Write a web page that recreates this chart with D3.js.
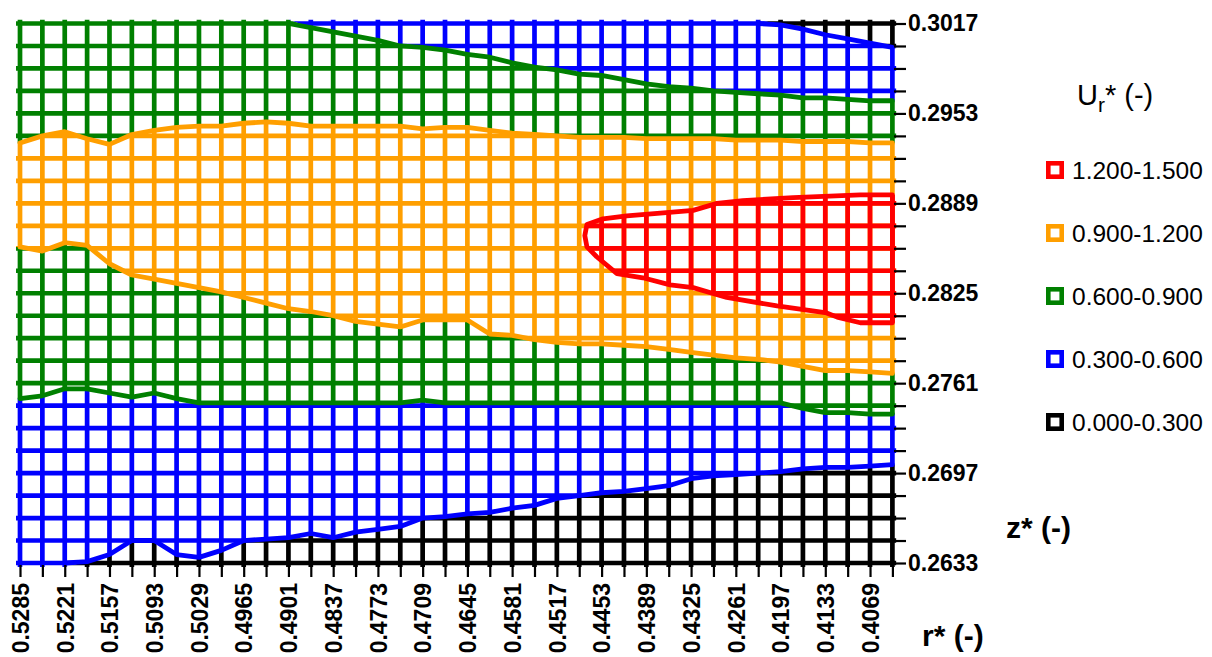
<!DOCTYPE html>
<html>
<head>
<meta charset="utf-8">
<script src="https://cdn.jsdelivr.net/npm/d3@7"></script>
<style>
  body { margin: 0; background: #fff; }
  svg { display: block; }
  text { font-family: "Liberation Sans", Arial, sans-serif; }
</style>
</head>
<body>
<svg id="chart" width="1212" height="657"></svg>
<script>
// Radial positions r* (categories, left to right)
const rCategories = [
  0.5285, 0.5253, 0.5221, 0.5189, 0.5157, 0.5125, 0.5093, 0.5061, 0.5029, 0.4997,
  0.4965, 0.4933, 0.4901, 0.4869, 0.4837, 0.4805, 0.4773, 0.4741, 0.4709, 0.4677,
  0.4645, 0.4613, 0.4581, 0.4549, 0.4517, 0.4485, 0.4453, 0.4421, 0.4389, 0.4357,
  0.4325, 0.4293, 0.4261, 0.4229, 0.4197, 0.4165, 0.4133, 0.4101, 0.4069, 0.4037
];
// Axial positions z* (series rows, bottom to top)
const zLevels = [
  0.2633, 0.2649, 0.2665, 0.2681, 0.2697, 0.2713, 0.2729, 0.2745, 0.2761, 0.2777,
  0.2793, 0.2809, 0.2825, 0.2841, 0.2857, 0.2873, 0.2889, 0.2905, 0.2921, 0.2937,
  0.2953, 0.2969, 0.2985, 0.3001, 0.3017
];
const zTickLabels = [0.2633, 0.2697, 0.2761, 0.2825, 0.2889, 0.2953, 0.3017];

// Velocity bands U_r*
const bandLabels = ["1.200-1.500", "0.900-1.200", "0.600-0.900", "0.300-0.600", "0.000-0.300"];
const bandColors = ["#ff0000", "#ff9f00", "#008000", "#0000ff", "#000000"];

// Contour boundaries: z* of each band edge at every r* category
// lower half of the field
const edgeBlackBlueLow = [
  0.2633, 0.2633, 0.2633, 0.2634, 0.2639, 0.2649, 0.2649, 0.2639, 0.2637, 0.2642,
  0.2649, 0.2650, 0.2651, 0.2654, 0.2651, 0.2655, 0.2657, 0.2659, 0.2665, 0.2666,
  0.2668, 0.2669, 0.2672, 0.2674, 0.2679, 0.2681, 0.2683, 0.2684, 0.2686, 0.2688,
  0.2693, 0.2695, 0.2696, 0.2697, 0.2698, 0.2700, 0.2701, 0.2701, 0.2702, 0.2703
];
const edgeBlueGreenLow = [
  0.2750, 0.2752, 0.2757, 0.2757, 0.2754, 0.2751, 0.2754, 0.2750, 0.2747, 0.2747,
  0.2747, 0.2747, 0.2747, 0.2747, 0.2747, 0.2747, 0.2747, 0.2747, 0.2749, 0.2747,
  0.2747, 0.2747, 0.2747, 0.2747, 0.2747, 0.2747, 0.2747, 0.2747, 0.2747, 0.2747,
  0.2747, 0.2747, 0.2747, 0.2747, 0.2747, 0.2743, 0.2740, 0.2740, 0.2739, 0.2739
];
const edgeGreenOrangeLow = [
  0.2858, 0.2855, 0.2861, 0.2859, 0.2846, 0.2838, 0.2835, 0.2832, 0.2829, 0.2826,
  0.2822, 0.2818, 0.2814, 0.2812, 0.2809, 0.2805, 0.2803, 0.2801, 0.2806, 0.2806,
  0.2806, 0.2796, 0.2795, 0.2792, 0.2790, 0.2789, 0.2789, 0.2788, 0.2787, 0.2785,
  0.2783, 0.2781, 0.2779, 0.2778, 0.2776, 0.2773, 0.2770, 0.2770, 0.2769, 0.2768
];
// upper half of the field
const edgeOrangeGreenHigh = [
  0.2932, 0.2937, 0.2940, 0.2935, 0.2931, 0.2938, 0.2941, 0.2943, 0.2944, 0.2944,
  0.2946, 0.2947, 0.2946, 0.2944, 0.2944, 0.2944, 0.2944, 0.2944, 0.2942, 0.2943,
  0.2943, 0.2941, 0.2939, 0.2938, 0.2937, 0.2936, 0.2936, 0.2936, 0.2935, 0.2935,
  0.2935, 0.2935, 0.2934, 0.2934, 0.2934, 0.2933, 0.2933, 0.2933, 0.2932, 0.2932
];
const edgeGreenBlueHigh = [
  0.3017, 0.3017, 0.3017, 0.3017, 0.3017, 0.3017, 0.3017, 0.3017, 0.3017, 0.3017,
  0.3017, 0.3017, 0.3017, 0.3014, 0.3011, 0.3008, 0.3005, 0.3001, 0.3000, 0.2998,
  0.2995, 0.2993, 0.2989, 0.2986, 0.2984, 0.2981, 0.2980, 0.2977, 0.2974, 0.2972,
  0.2971, 0.2969, 0.2968, 0.2967, 0.2966, 0.2964, 0.2964, 0.2963, 0.2962, 0.2962
];
const edgeBlueBlackHigh = [
  0.3017, 0.3017, 0.3017, 0.3017, 0.3017, 0.3017, 0.3017, 0.3017, 0.3017, 0.3017,
  0.3017, 0.3017, 0.3017, 0.3017, 0.3017, 0.3017, 0.3017, 0.3017, 0.3017, 0.3017,
  0.3017, 0.3017, 0.3017, 0.3017, 0.3017, 0.3017, 0.3017, 0.3017, 0.3017, 0.3017,
  0.3017, 0.3017, 0.3017, 0.3017, 0.3016, 0.3013, 0.3009, 0.3006, 0.3003, 0.3000
];
// closed outline [r*, z*] of the 1.200-1.500 core
const coreOutline = [
  [0.4477, 0.2866], [0.4474, 0.2874], [0.4451, 0.2878], [0.4417, 0.2880], [0.4369, 0.2882],
  [0.4322, 0.2884], [0.4288, 0.2889], [0.4251, 0.2891], [0.4179, 0.2893], [0.4083, 0.2895],
  [0.4037, 0.2895], [0.4037, 0.2804], [0.4083, 0.2804], [0.4116, 0.2808], [0.4131, 0.2811],
  [0.4202, 0.2816], [0.4274, 0.2822], [0.4322, 0.2829], [0.4355, 0.2831], [0.4394, 0.2836],
  [0.4431, 0.2839], [0.4460, 0.2851], [0.4474, 0.2858]
];

const svg = d3.select("#chart");
const rFirst = rCategories[0], rLast = rCategories[rCategories.length - 1];
const zMin = zLevels[0], zMax = zLevels[zLevels.length - 1];

const x = d3.scaleLinear().domain([rFirst, rLast]).range([20, 892.4]);
const y = d3.scaleLinear().domain([zMin, zMax]).range([563, 23.5]);

const GRID_W = 4.7;   // wireframe stroke
const EDGE_W = 4.8;   // contour edge stroke
const PAD = 4;        // clip overhang at the plot border

const eps = 1e-7;
const yc = z => z >= zMax - eps ? y(zMax) - PAD : (z <= zMin + eps ? y(zMin) + PAD : y(z));
const xc = r => r >= rFirst - eps ? x(rFirst) - PAD : (r <= rLast + eps ? x(rLast) + PAD : x(r));
const pick = (b, i) => (typeof b === "number" ? b : b[i]);

function bandPath(lower, upper) {
  const topPts = rCategories.map((r, i) => [x(r), yc(pick(upper, i))]);
  const botPts = rCategories.map((r, i) => [x(r), yc(pick(lower, i))]);
  topPts.unshift([x(rFirst) - PAD, topPts[0][1]]);
  topPts.push([x(rLast) + PAD, topPts[topPts.length - 1][1]]);
  botPts.unshift([x(rFirst) - PAD, botPts[0][1]]);
  botPts.push([x(rLast) + PAD, botPts[botPts.length - 1][1]]);
  return "M" + topPts.concat(botPts.reverse()).map(p => p.join(",")).join("L") + "Z";
}

const defs = svg.append("defs");
const plot = svg.append("g");

function drawGrid(color, clipId, pathD) {
  defs.append("clipPath").attr("id", clipId).append("path").attr("d", pathD);
  const g = plot.append("g").attr("clip-path", `url(#${clipId})`)
    .attr("stroke", color).attr("stroke-width", GRID_W);
  g.selectAll("line.v").data(rCategories).join("line").attr("class", "v")
    .attr("x1", d => x(d)).attr("x2", d => x(d))
    .attr("y1", y(zMax) - PAD).attr("y2", y(zMin) + PAD);
  g.selectAll("line.h").data(zLevels).join("line").attr("class", "h")
    .attr("y1", d => y(d)).attr("y2", d => y(d))
    .attr("x1", x(rFirst) - PAD).attr("x2", x(rLast) + PAD);
}

// bands from top to bottom of the field
drawGrid(bandColors[4], "c-black-top", bandPath(edgeBlueBlackHigh, zMax));
drawGrid(bandColors[3], "c-blue-top", bandPath(edgeGreenBlueHigh, edgeBlueBlackHigh));
drawGrid(bandColors[2], "c-green-top", bandPath(edgeOrangeGreenHigh, edgeGreenBlueHigh));
drawGrid(bandColors[1], "c-orange", bandPath(edgeGreenOrangeLow, edgeOrangeGreenHigh));
drawGrid(bandColors[2], "c-green-low", bandPath(edgeBlueGreenLow, edgeGreenOrangeLow));
drawGrid(bandColors[3], "c-blue-low", bandPath(edgeBlackBlueLow, edgeBlueGreenLow));
drawGrid(bandColors[4], "c-black-low", bandPath(zMin, edgeBlackBlueLow));
drawGrid(bandColors[0], "c-red",
  "M" + coreOutline.map(d => [xc(d[0]), y(d[1])].join(",")).join("L") + "Z");

// contour edges, drawn in the colour of the faster band
function drawEdge(values, color) {
  const inside = i => values[i] < zMax - eps && values[i] > zMin + eps;
  const line = d3.line()
    .defined((d, i) => inside(i) || (i > 0 && inside(i - 1)) || (i < values.length - 1 && inside(i + 1)))
    .x((d, i) => x(rCategories[i]))
    .y(d => y(d));
  plot.append("path").attr("d", line(values))
    .attr("fill", "none").attr("stroke", color).attr("stroke-width", EDGE_W)
    .attr("stroke-linejoin", "round").attr("stroke-linecap", "round");
}
drawEdge(edgeBlackBlueLow, bandColors[3]);
drawEdge(edgeBlueGreenLow, bandColors[2]);
drawEdge(edgeGreenOrangeLow, bandColors[1]);
drawEdge(edgeOrangeGreenHigh, bandColors[1]);
drawEdge(edgeGreenBlueHigh, bandColors[2]);
drawEdge(edgeBlueBlackHigh, bandColors[3]);
plot.append("path")
  .attr("d", d3.line().x(d => x(d[0])).y(d => y(d[1])).curve(d3.curveLinearClosed)(coreOutline))
  .attr("fill", "none").attr("stroke", bandColors[0]).attr("stroke-width", EDGE_W)
  .attr("stroke-linejoin", "round");

// r* axis (bottom)
const xAxis = d3.axisBottom(x).tickValues(rCategories).tickSize(12).tickPadding(0)
  .tickFormat((d, i) => (i % 2 === 0 ? d.toFixed(4) : ""));
svg.append("g").attr("transform", "translate(0,565)").call(xAxis)
  .call(g => g.select(".domain").remove())
  .call(g => g.selectAll(".tick line").attr("stroke", "#000").attr("stroke-width", 2.2))
  .call(g => g.selectAll(".tick text")
    .attr("transform", "rotate(-90)")
    .attr("x", -18).attr("y", 0).attr("dy", "0.36em")
    .attr("text-anchor", "end")
    .attr("fill", "#000")
    .style("font-size", "23px").style("font-weight", "bold"));

// z* axis (right)
const isLabel = d => zTickLabels.some(v => Math.abs(v - d) < eps);
const yAxis = d3.axisRight(y).tickValues(zLevels).tickSize(12).tickPadding(2)
  .tickFormat(d => (isLabel(d) ? d.toFixed(4) : ""));
svg.append("g").attr("transform", "translate(894,0)").call(yAxis)
  .call(g => g.select(".domain").remove())
  .call(g => g.selectAll(".tick line").attr("stroke", "#000").attr("stroke-width", 2.2))
  .call(g => g.selectAll(".tick text")
    .attr("fill", "#000")
    .style("font-size", "23px").style("font-weight", "bold"));

// axis titles
svg.append("text").attr("x", 1006).attr("y", 538)
  .style("font-size", "30px").style("font-weight", "bold").text("z* (-)");
svg.append("text").attr("x", 922).attr("y", 646)
  .style("font-size", "30px").style("font-weight", "bold").text("r* (-)");

// legend
const legTitle = svg.append("text").attr("x", 1077).attr("y", 105).style("font-size", "29px");
legTitle.append("tspan").text("U");
legTitle.append("tspan").attr("dy", 7).style("font-size", "21px").text("r");
legTitle.append("tspan").attr("dy", -7).text("* (-)");

const legend = svg.append("g").selectAll("g").data(bandLabels).join("g")
  .attr("transform", (d, i) => `translate(1046,${170 + i * 63})`);
legend.append("rect").attr("x", 2.3).attr("y", -6.7).attr("width", 13.4).attr("height", 13.4)
  .attr("fill", "#fff").attr("stroke", (d, i) => bandColors[i]).attr("stroke-width", 4.6);
legend.append("text").attr("x", 26).attr("dy", "0.36em")
  .style("font-size", "24.5px").text(d => d);
</script>
</body>
</html>
